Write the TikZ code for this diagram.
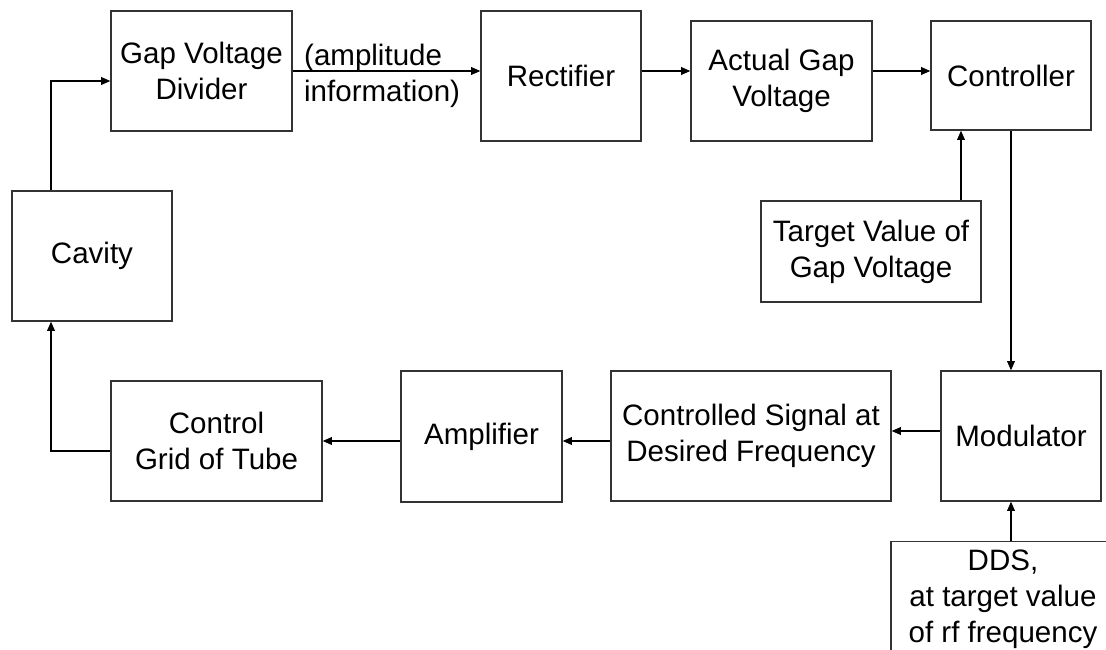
\documentclass[tikz,border=0pt]{standalone}
\usepackage{fontspec}
\setmainfont{Liberation Sans}
\usepackage{tikz}
\usetikzlibrary{arrows.meta}

\begin{document}
\begin{tikzpicture}[
    blk/.style={draw=black!80, line width=1pt, align=center,
                font=\fontsize{21}{25.5}\selectfont, inner sep=0.2cm},
    arr/.style={-{Triangle[length=6.5pt,width=5.5pt]}, line width=0.9pt}
  ]
  \clip (0,0) rectangle (27.65,16.25);

  % ── Top row ──
  \node[blk, minimum width=4.525cm, minimum height=3.0cm]  (div)  at (5.0375,14.475) {Gap Voltage\\Divider};
  \node[blk, minimum width=4.0cm,   minimum height=3.25cm] (rect) at (14.025,14.35)  {Rectifier};
  \node[blk, minimum width=4.525cm, minimum height=3.0cm]  (act)  at (19.5375,14.225) {Actual Gap\\Voltage};
  \node[blk, minimum width=4.0cm,   minimum height=2.725cm] (ctrl) at (25.275,14.3625) {Controller};

  % ── Middle ──
  \node[blk, minimum width=4.0cm, minimum height=3.25cm]  (cav) at (2.3,9.85) {Cavity};
  \node[blk, minimum width=5.5cm, minimum height=2.525cm] (tgt) at (21.775,9.9625) {Target Value of\\Gap Voltage};

  % ── Bottom row ──
  \node[blk, minimum width=5.275cm, minimum height=3.0cm]  (grid) at (5.4125,5.225) {Control\\Grid of Tube};
  \node[blk, minimum width=4.025cm, minimum height=3.275cm] (amp) at (12.0375,5.3375) {Amplifier};
  \node[blk, minimum width=7.0cm,   minimum height=3.25cm] (sig)  at (18.775,5.35) {Controlled Signal at\\Desired Frequency};
  \node[blk, minimum width=4.0cm,   minimum height=3.25cm] (mod)  at (25.525,5.35) {Modulator};
  \node[blk, minimum width=5.6cm, anchor=north] (dds) at (25.075,2.725)
    {DDS,\\at target value\\of rf frequency};

  % label on the divider output
  \node[align=left, anchor=west, inner sep=0.08cm, font=\fontsize{21}{26}\selectfont]
    (info) at ([xshift=0.2cm,yshift=-0.125cm]div.east) {(amplitude\\information)};

  % ── Connectors ──
  \draw[arr] (div.east) -- (div.east -| rect.west);
  \draw[arr] (rect.east |- div.east) -- (act.west |- div.east);
  \draw[arr] (act.east |- div.east) -- (ctrl.west |- div.east);

  \coordinate (tin) at ([xshift=-1.25cm]ctrl.south);
  \draw[arr] (tin |- tgt.north) -- (tin);
  \draw[arr] (ctrl.south) -- (ctrl.south |- mod.north);
  \draw[arr] (dds.north -| ctrl.south) -- (ctrl.south |- mod.south);

  \coordinate (mout) at ([yshift=0.125cm]mod.west);
  \draw[arr] (mout) -- (mout -| sig.east);
  \draw[arr] (sig.west |- grid.east) -- (amp.east |- grid.east);
  \draw[arr] (amp.west |- grid.east) -- (grid.east);

  \coordinate (cin) at ([yshift=-0.25cm]div.west);
  \coordinate (gout) at ([yshift=-0.25cm]grid.west);
  \draw[arr] (gout) -| ([xshift=-1.025cm]cav.south);
  \draw[arr] ([xshift=-1.025cm]cav.north) |- (cin);
\end{tikzpicture}
\end{document}
